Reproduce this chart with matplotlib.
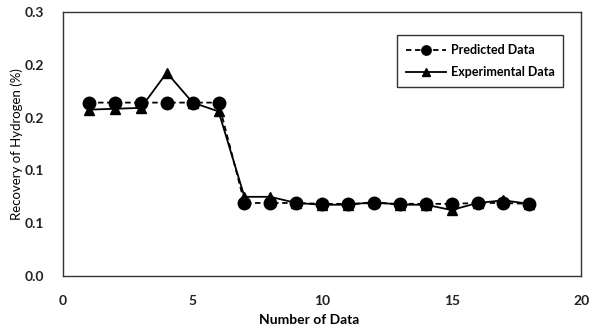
import matplotlib
matplotlib.use("Agg")
import matplotlib.pyplot as plt
from matplotlib.ticker import FormatStrFormatter

plt.rcParams["font.family"] = ["Lato", "DejaVu Sans"]

n_data = list(range(1, 19))
predicted = [0.197, 0.197, 0.197, 0.197, 0.197, 0.197,
             0.083, 0.083, 0.083, 0.082, 0.082, 0.083,
             0.082, 0.082, 0.082, 0.083, 0.083, 0.082]
experimental = [0.189, 0.190, 0.191, 0.231, 0.197, 0.187,
                0.090, 0.090, 0.083, 0.081, 0.081, 0.084,
                0.081, 0.081, 0.075, 0.083, 0.086, 0.082]

fig = plt.figure(figsize=(5.96, 3.31), dpi=100)
ax = fig.add_axes([0.106, 0.166, 0.869, 0.798])

ax.plot(n_data, predicted, ls="--", color="black", lw=1.3, marker="o",
        markersize=9, label="Predicted Data", dashes=(3, 2))
ax.plot(n_data, experimental, ls="-", color="black", lw=1.3, marker="^",
        markersize=7.5, label="Experimental Data")

ax.set_xlim(0, 20)
ax.set_ylim(0, 0.3)
ax.set_xticks([0, 5, 10, 15, 20])
ax.set_yticks([0, 0.06, 0.12, 0.18, 0.24, 0.3])
ax.yaxis.set_major_formatter(FormatStrFormatter("%.1f"))
ax.tick_params(axis="x", length=0, labelsize=10, pad=14)
ax.tick_params(axis="y", length=0, labelsize=10, pad=14)
for lbl in ax.get_xticklabels() + ax.get_yticklabels():
    lbl.set_fontweight("bold")
    lbl.set_color("#222222")
for sp in ax.spines.values():
    sp.set_linewidth(1.0)
    sp.set_color("#333333")

ax.set_xlabel("Number of Data", fontsize=10, fontweight="bold")
ax.xaxis.set_label_coords(0.475, -0.145)
ax.set_ylabel("Recovery of Hydrogen (%)", fontsize=9.5)
ax.yaxis.set_label_coords(-0.078, 0.5)

leg = ax.legend(loc="upper right", bbox_to_anchor=(0.978, 0.935), fontsize=9,
                frameon=True, fancybox=False, edgecolor="black",
                handlelength=3.2, markerscale=0.75, borderpad=0.7,
                labelspacing=0.8, handletextpad=0.4)
leg.get_frame().set_linewidth(1.0)
for t in leg.get_texts():
    t.set_fontweight("bold")

fig.savefig("out.png", dpi=100)
